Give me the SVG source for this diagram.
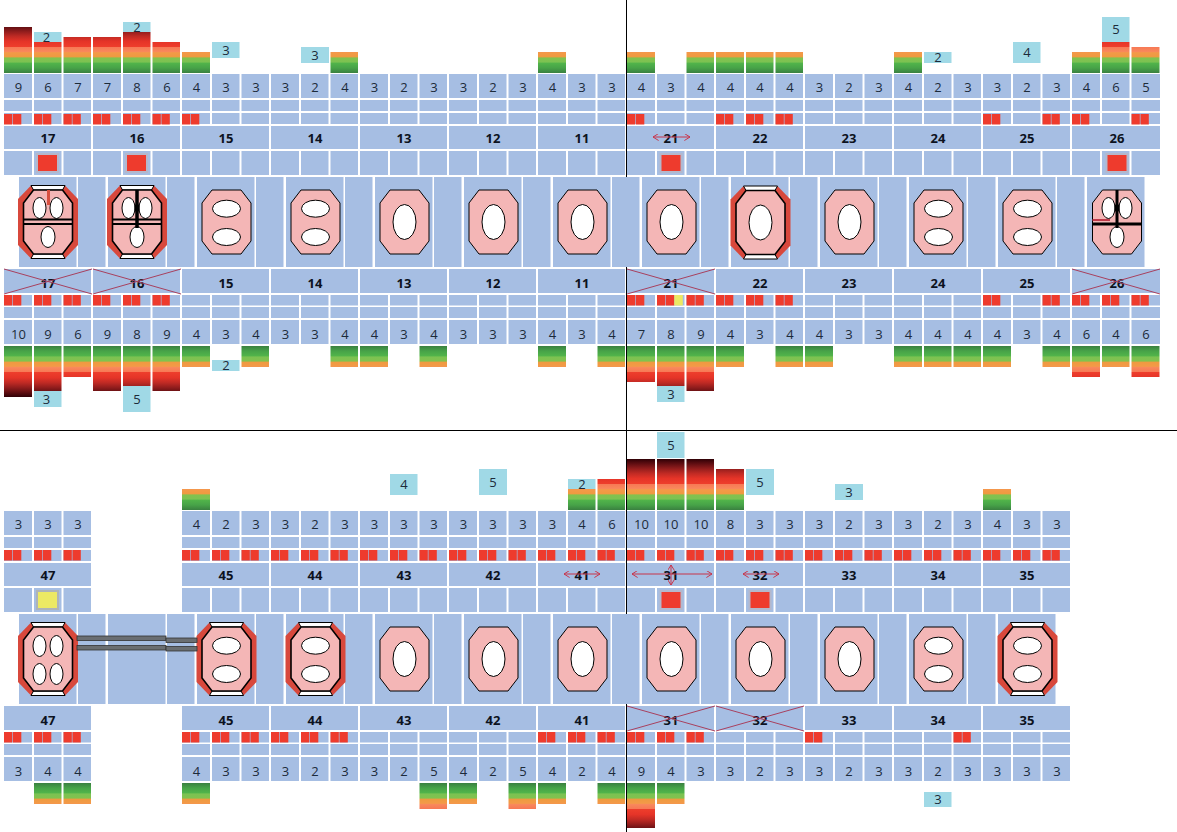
<svg xmlns="http://www.w3.org/2000/svg" width="1177" height="832" viewBox="0 0 1177 832">
<style>
.c{fill:#a6bee3}
.n{font:13px "Open Sans","Liberation Sans",sans-serif;fill:#1c2b3a;text-anchor:middle}
.l{font:bold 13px "Open Sans","Liberation Sans",sans-serif;fill:#0c1220;text-anchor:middle}
.tl{fill:#a0d9e6}
.u{fill:url(#gu)}
.d{fill:url(#gd)}
.r{fill:#ee3b2d}
.sq{fill:#ee3b2d;stroke:#b4b8cc;stroke-width:2}
.sy{fill:#ece964;stroke:#aeb4b8;stroke-width:2}
.y{fill:#ece964}
.ov{fill:#fff;stroke:#000;stroke-width:1}
.oc{fill:#f4b6b6;stroke:#000;stroke-width:1}
.oc2{fill:#f4b6b6;stroke:#000;stroke-width:1.6}
.xl{stroke:#a8405e;stroke-width:1;fill:none}
.ar{stroke:#c8344a;stroke-width:1;fill:none;marker-start:url(#ah);marker-end:url(#ah)}
.ax{stroke:#000;stroke-width:1}
</style>
<defs>
<linearGradient id="st">
<stop offset="0" stop-color="#3a8040"/><stop offset=".1" stop-color="#47a348"/><stop offset=".2" stop-color="#52b54a"/><stop offset=".21" stop-color="#7cc252"/><stop offset=".3" stop-color="#82c24e"/><stop offset=".31" stop-color="#ee9a40"/><stop offset=".4" stop-color="#f39a48"/><stop offset=".41" stop-color="#f98a5c"/><stop offset=".5" stop-color="#f77a56"/><stop offset=".51" stop-color="#ee3e2c"/><stop offset=".62" stop-color="#e53428"/><stop offset=".72" stop-color="#bf2a24"/><stop offset=".82" stop-color="#8e1c1c"/><stop offset=".92" stop-color="#5a0c10"/><stop offset="1" stop-color="#300006"/>
</linearGradient>
<linearGradient id="gu" href="#st" gradientUnits="userSpaceOnUse" x1="0" y1="73" x2="0" y2="22"/>
<linearGradient id="gd" href="#st" gradientUnits="userSpaceOnUse" x1="0" y1="346" x2="0" y2="397"/>
<marker id="ah" viewBox="0 0 10 10" refX="9" refY="5" markerWidth="7" markerHeight="7" markerUnits="userSpaceOnUse" orient="auto-start-reverse"><path d="M1 0L9 5L1 10" fill="none" stroke="#c8344a" stroke-width="1.4"/></marker>
<g id="up">
<rect class="c" x="0" y="74" width="28" height="24"/><rect class="c" x="30" y="74" width="27.5" height="24"/><rect class="c" x="59.5" y="74" width="27.5" height="24"/>
<rect class="c" x="0" y="100" width="28" height="11"/><rect class="c" x="30" y="100" width="27.5" height="11"/><rect class="c" x="59.5" y="100" width="27.5" height="11"/>
<rect class="c" x="0" y="113" width="28" height="11"/><rect class="c" x="30" y="113" width="27.5" height="11"/><rect class="c" x="59.5" y="113" width="27.5" height="11"/>
<rect class="c" x="0" y="126" width="87" height="23"/>
<rect class="c" x="0" y="151" width="28" height="24"/><rect class="c" x="30" y="151" width="27.5" height="24"/><rect class="c" x="59.5" y="151" width="27.5" height="24"/>
</g>
<g id="lo">
<rect class="c" x="0" y="269" width="87" height="24"/>
<rect class="c" x="0" y="295" width="28" height="10.5"/><rect class="c" x="30" y="295" width="27.5" height="10.5"/><rect class="c" x="59.5" y="295" width="27.5" height="10.5"/>
<rect class="c" x="0" y="307" width="28" height="11"/><rect class="c" x="30" y="307" width="27.5" height="11"/><rect class="c" x="59.5" y="307" width="27.5" height="11"/>
<rect class="c" x="0" y="320" width="28" height="24"/><rect class="c" x="30" y="320" width="27.5" height="24"/><rect class="c" x="59.5" y="320" width="27.5" height="24"/>
</g>
<g id="bL"><rect class="c" x="15" y="177" width="57.500" height="90"/></g>
<g id="bS"><rect class="c" x="74" y="177" width="27.500" height="90"/></g>
<g id="p"><rect class="r" x="0" y="0" width="8.300" height="10.500"/><rect class="r" x="9" y="0" width="8.300" height="10.500"/></g>
<g id="rTop"><use href="#p" x="0" y="114"/><use href="#p" x="30" y="114"/><use href="#p" x="59.500" y="114"/></g>
<g id="rLow"><use href="#p" x="0" y="295"/><use href="#p" x="30" y="295"/><use href="#p" x="59.500" y="295"/></g>
<polygon id="oct" class="oc" points="-14.500,-32 14.500,-32 24.500,-19 24.500,19 14.500,32 -14.500,32 -24.500,19 -24.500,-19"/>
<g id="brd">
<polygon fill="#d8483c" points="-17,-36.500 17,-36.500 30,-23 30,23 17,36.500 -17,36.500 -30,23 -30,-23"/>
<polygon fill="#fff" stroke="#000" stroke-width="1" points="-17,-36.500 17,-36.500 14.500,-32 -14.500,-32"/>
<polygon fill="#fff" stroke="#000" stroke-width="1" points="-17,36.500 17,36.500 14.500,32 -14.500,32"/>
<polygon class="oc2" points="-14.500,-32 14.500,-32 24.500,-19 24.500,19 14.500,32 -14.500,32 -24.500,19 -24.500,-19"/>
</g>
<ellipse id="o1" class="ov" cx="0" cy="0" rx="11.500" ry="17.500"/>
<g id="o2"><ellipse class="ov" cx="0" cy="-13.300" rx="14" ry="8.500"/><ellipse class="ov" cx="0" cy="15" rx="14" ry="8.500"/></g>
<g id="o3"><ellipse class="ov" cx="-8.500" cy="-14" rx="6.500" ry="10.500"/><ellipse class="ov" cx="8.500" cy="-14" rx="6.500" ry="10.500"/><ellipse class="ov" cx="0" cy="15" rx="7" ry="10.500"/></g>
<g id="o4"><ellipse class="ov" cx="-8.500" cy="-13" rx="6.500" ry="10.500"/><ellipse class="ov" cx="8.500" cy="-13" rx="6.500" ry="10.500"/><ellipse class="ov" cx="-8.500" cy="15" rx="6.500" ry="10.500"/><ellipse class="ov" cx="8.500" cy="15" rx="6.500" ry="10.500"/></g>
<g id="xm"><line class="xl" x1="0" y1="269" x2="88" y2="294"/><line class="xl" x1="0" y1="294" x2="88" y2="269"/></g>
</defs>
<rect width="1177" height="832" fill="#fff"/>
<g id="connectors">
<line class="ax" x1="626.500" y1="0" x2="626.500" y2="832"/>
<line class="ax" x1="0" y1="430.500" x2="1177" y2="430.500"/>
</g>

<g id="t17" transform="translate(4)">
<use href="#up"/><use href="#lo"/><use href="#bL"/><use href="#bS"/><use href="#rTop"/><use href="#rLow"/>
<rect class="u" x="0" y="27" width="28" height="46"/><rect class="tl" x="30" y="32" width="27.500" height="10"/><rect class="u" x="30" y="42" width="27.500" height="31"/><rect class="u" x="59.500" y="37" width="27.500" height="36"/>
<rect class="d" x="0" y="346" width="28" height="51"/><rect class="d" x="30" y="346" width="27.500" height="45"/><rect class="tl" x="30" y="391" width="27.500" height="16"/><rect class="d" x="59.500" y="346" width="27.500" height="31"/>
<rect class="sq" x="33" y="154" width="21" height="18"/>
<g transform="translate(44 222)"><use href="#brd"/><use href="#o3"/><line x1="-24.500" x2="24.500" y1="-2.500" y2="-2.500" stroke="#000" stroke-width="2"/><line x1="-24.500" x2="24.500" y1="2" y2="2" stroke="#000" stroke-width="2"/><line x1=".5" x2=".5" y1="-32" y2="-17" stroke="#d85040" stroke-width="3"/></g>
<text class="n" x="14.500" y="92">9</text><text class="n" x="44" y="92">6</text><text class="n" x="74" y="92">7</text>
<text class="n" x="42.500" y="41.500" font-size="12">2</text>
<text class="l" x="44" y="143">17</text><text class="l" x="44" y="287.500">17</text>
<text class="n" x="14.500" y="339">10</text><text class="n" x="44" y="339">9</text><text class="n" x="74" y="339">6</text>
<text class="n" x="42.500" y="403.500">3</text>
<use href="#xm"/>
</g>

<g id="t16" transform="translate(93)">
<use href="#up"/><use href="#lo"/><use href="#bL"/><use href="#bS"/><use href="#rTop"/><use href="#rLow"/>
<rect class="u" x="0" y="37" width="28" height="36"/><rect class="tl" x="30" y="22" width="27.500" height="10"/><rect class="u" x="30" y="32" width="27.500" height="41"/><rect class="u" x="59.500" y="42" width="27.500" height="31"/>
<rect class="d" x="0" y="346" width="28" height="45"/><rect class="d" x="30" y="346" width="27.500" height="40"/><rect class="tl" x="30" y="386" width="27.500" height="26"/><rect class="d" x="59.500" y="346" width="27.500" height="45"/>
<rect class="sq" x="33" y="154" width="21" height="18"/>
<g transform="translate(44 222)"><use href="#brd"/><use href="#o3"/><line x1="-24.500" x2="24.500" y1="-2.500" y2="-2.500" stroke="#000" stroke-width="2"/><line x1="-24.500" x2="24.500" y1="2" y2="2" stroke="#000" stroke-width="2"/><line x1="0" x2="0" y1="-32" y2="6" stroke="#000" stroke-width="3.500"/><ellipse cx="0" cy="-14" rx="2.500" ry="4"/></g>
<text class="n" x="14.500" y="92">7</text><text class="n" x="44" y="92">8</text><text class="n" x="74" y="92">6</text>
<text class="n" x="44" y="31.500" font-size="12">2</text>
<text class="l" x="44" y="143">16</text><text class="l" x="44" y="287.500">16</text>
<text class="n" x="14.500" y="339">9</text><text class="n" x="44" y="339">8</text><text class="n" x="74" y="339">9</text>
<text class="n" x="44" y="404">5</text>
<use href="#xm"/>
</g>

<g id="t15" transform="translate(182)">
<use href="#up"/><use href="#lo"/><use href="#bL"/><use href="#bS"/>
<use href="#p" x="0" y="114"/>
<rect class="u" x="0" y="52" width="28" height="21"/><rect class="tl" x="30" y="42" width="27.500" height="16"/>
<rect class="d" x="0" y="346" width="28" height="21"/><rect class="tl" x="30" y="360" width="27.500" height="11"/><rect class="d" x="59.500" y="346" width="27.500" height="21"/>
<g transform="translate(44.500 222)"><use href="#oct"/><use href="#o2"/></g>
<text class="n" x="14.500" y="92">4</text><text class="n" x="44" y="92">3</text><text class="n" x="74" y="92">3</text>
<text class="n" x="44" y="54.500">3</text>
<text class="l" x="44" y="143">15</text><text class="l" x="44" y="287.500">15</text>
<text class="n" x="14.500" y="339">4</text><text class="n" x="44" y="339">3</text><text class="n" x="74" y="339">4</text>
<text class="n" x="44" y="370">2</text>
</g>

<g id="t14" transform="translate(271)">
<use href="#up"/><use href="#lo"/><use href="#bL"/><use href="#bS"/>
<rect class="tl" x="30" y="47" width="28" height="16"/><rect class="u" x="59.500" y="52" width="27.500" height="21"/>
<rect class="d" x="59.500" y="346" width="27.500" height="21"/>
<g transform="translate(44.500 222)"><use href="#oct"/><use href="#o2"/></g>
<text class="n" x="14.500" y="92">3</text><text class="n" x="44" y="92">2</text><text class="n" x="74" y="92">4</text>
<text class="n" x="44" y="59.500">3</text>
<text class="l" x="44" y="143">14</text><text class="l" x="44" y="287.500">14</text>
<text class="n" x="14.500" y="339">3</text><text class="n" x="44" y="339">3</text><text class="n" x="74" y="339">4</text>
</g>

<g id="t13" transform="translate(360)">
<use href="#up"/><use href="#lo"/><use href="#bL"/><use href="#bS"/>
<rect class="d" x="0" y="346" width="28" height="21"/><rect class="d" x="59.500" y="346" width="27.500" height="21"/>
<g transform="translate(44.500 222)"><use href="#oct"/><use href="#o1"/></g>
<text class="n" x="14.500" y="92">3</text><text class="n" x="44" y="92">2</text><text class="n" x="74" y="92">3</text>
<text class="l" x="44" y="143">13</text><text class="l" x="44" y="287.500">13</text>
<text class="n" x="14.500" y="339">4</text><text class="n" x="44" y="339">3</text><text class="n" x="74" y="339">4</text>
</g>

<g id="t12" transform="translate(449)">
<use href="#up"/><use href="#lo"/><use href="#bL"/><use href="#bS"/>
<g transform="translate(44.500 222)"><use href="#oct"/><use href="#o1"/></g>
<text class="n" x="14.500" y="92">3</text><text class="n" x="44" y="92">2</text><text class="n" x="74" y="92">3</text>
<text class="l" x="44" y="143">12</text><text class="l" x="44" y="287.500">12</text>
<text class="n" x="14.500" y="339">3</text><text class="n" x="44" y="339">3</text><text class="n" x="74" y="339">3</text>
</g>

<g id="t11" transform="translate(538)">
<use href="#up"/><use href="#lo"/><use href="#bL"/><use href="#bS"/>
<rect class="u" x="0" y="52" width="28" height="21"/>
<rect class="d" x="0" y="346" width="28" height="21"/><rect class="d" x="59.500" y="346" width="27.500" height="21"/>
<g transform="translate(44.500 222)"><use href="#oct"/><use href="#o1"/></g>
<text class="n" x="14.500" y="92">4</text><text class="n" x="44" y="92">3</text><text class="n" x="74" y="92">3</text>
<text class="l" x="44" y="143">11</text><text class="l" x="44" y="287.500">11</text>
<text class="n" x="14.500" y="339">4</text><text class="n" x="44" y="339">3</text><text class="n" x="74" y="339">4</text>
</g>

<g id="t21" transform="translate(627)">
<use href="#up"/><use href="#lo"/><use href="#bL"/><use href="#bS"/><use href="#rLow"/>
<use href="#p" x="0" y="114"/>
<rect class="y" x="47.300" y="295" width="8.500" height="10.500"/>
<rect class="u" x="0" y="52" width="28" height="21"/><rect class="u" x="59.500" y="52" width="27.500" height="21"/>
<rect class="d" x="0" y="346" width="28" height="36"/><rect class="d" x="30" y="346" width="27.500" height="40"/><rect class="tl" x="30" y="386" width="27.500" height="16"/><rect class="d" x="59.500" y="346" width="27.500" height="45"/>
<rect class="sq" x="33.500" y="154" width="21" height="18"/>
<g transform="translate(44.500 222)"><use href="#oct"/><use href="#o1"/></g>
<text class="n" x="14.500" y="92">4</text><text class="n" x="44" y="92">3</text><text class="n" x="74" y="92">4</text>
<text class="l" x="44" y="143">21</text><text class="l" x="44" y="287.500">21</text>
<text class="n" x="14.500" y="339">7</text><text class="n" x="44" y="339">8</text><text class="n" x="74" y="339">9</text>
<text class="n" x="44" y="398.500">3</text>
<line class="ar" x1="26" y1="137" x2="63" y2="137"/>
<use href="#xm"/>
</g>

<g id="t22" transform="translate(716)">
<use href="#up"/><use href="#lo"/><use href="#bL"/><use href="#bS"/><use href="#rTop"/><use href="#rLow"/>
<rect class="u" x="0" y="52" width="28" height="21"/><rect class="u" x="30" y="52" width="27.500" height="21"/><rect class="u" x="59.500" y="52" width="27.500" height="21"/>
<rect class="d" x="0" y="346" width="28" height="21"/><rect class="d" x="59.500" y="346" width="27.500" height="21"/>
<g transform="translate(44.500 222.500)"><use href="#brd"/><use href="#o1"/></g>
<text class="n" x="14.500" y="92">4</text><text class="n" x="44" y="92">4</text><text class="n" x="74" y="92">4</text>
<text class="l" x="44" y="143">22</text><text class="l" x="44" y="287.500">22</text>
<text class="n" x="14.500" y="339">4</text><text class="n" x="44" y="339">3</text><text class="n" x="74" y="339">4</text>
</g>

<g id="t23" transform="translate(805)">
<use href="#up"/><use href="#lo"/><use href="#bL"/><use href="#bS"/>
<rect class="d" x="0" y="346" width="28" height="21"/>
<g transform="translate(44.500 222)"><use href="#oct"/><use href="#o1"/></g>
<text class="n" x="14.500" y="92">3</text><text class="n" x="44" y="92">2</text><text class="n" x="74" y="92">3</text>
<text class="l" x="44" y="143">23</text><text class="l" x="44" y="287.500">23</text>
<text class="n" x="14.500" y="339">4</text><text class="n" x="44" y="339">3</text><text class="n" x="74" y="339">3</text>
</g>

<g id="t24" transform="translate(894)">
<use href="#up"/><use href="#lo"/><use href="#bL"/><use href="#bS"/>
<rect class="u" x="0" y="52" width="28" height="21"/><rect class="tl" x="30" y="52" width="27.500" height="11"/>
<rect class="d" x="0" y="346" width="28" height="21"/><rect class="d" x="30" y="346" width="27.500" height="21"/><rect class="d" x="59.500" y="346" width="27.500" height="21"/>
<g transform="translate(44.500 222)"><use href="#oct"/><use href="#o2"/></g>
<text class="n" x="14.500" y="92">4</text><text class="n" x="44" y="92">2</text><text class="n" x="74" y="92">3</text>
<text class="n" x="44" y="62">2</text>
<text class="l" x="44" y="143">24</text><text class="l" x="44" y="287.500">24</text>
<text class="n" x="14.500" y="339">4</text><text class="n" x="44" y="339">4</text><text class="n" x="74" y="339">4</text>
</g>

<g id="t25" transform="translate(983)">
<use href="#up"/><use href="#lo"/><use href="#bL"/><use href="#bS"/>
<use href="#p" x="0" y="114"/><use href="#p" x="59.500" y="114"/><use href="#p" x="0" y="295"/><use href="#p" x="59.500" y="295"/>
<rect class="tl" x="30" y="42" width="27.500" height="21"/>
<rect class="d" x="0" y="346" width="28" height="21"/><rect class="d" x="59.500" y="346" width="27.500" height="21"/>
<g transform="translate(44.500 222)"><use href="#oct"/><use href="#o2"/></g>
<text class="n" x="14.500" y="92">3</text><text class="n" x="44" y="92">2</text><text class="n" x="74" y="92">3</text>
<text class="n" x="44" y="57">4</text>
<text class="l" x="44" y="143">25</text><text class="l" x="44" y="287.500">25</text>
<text class="n" x="14.500" y="339">4</text><text class="n" x="44" y="339">3</text><text class="n" x="74" y="339">4</text>
</g>

<g id="t26" transform="translate(1072)">
<use href="#up"/><use href="#lo"/><use href="#bL"/><use href="#rLow"/>
<use href="#p" x="0" y="114"/><use href="#p" x="59.500" y="114"/>
<rect class="c" x="87" y="74" width="1" height="24"/><rect class="c" x="87" y="100" width="1" height="11"/><rect class="c" x="87" y="113" width="1" height="11"/><rect class="c" x="87" y="126" width="1" height="23"/><rect class="c" x="87" y="151" width="1" height="24"/><rect class="c" x="87" y="269" width="1" height="24"/><rect class="c" x="87" y="295" width="1" height="10.500"/><rect class="c" x="87" y="307" width="1" height="11"/><rect class="c" x="87" y="320" width="1" height="24"/>
<rect class="u" x="0" y="52" width="28" height="21"/><rect class="tl" x="30" y="17" width="27.500" height="25"/><rect class="u" x="30" y="42" width="27.500" height="31"/><rect class="u" x="59.500" y="47" width="28" height="26"/>
<rect class="d" x="0" y="346" width="28" height="31"/><rect class="d" x="30" y="346" width="27.500" height="21"/><rect class="d" x="59.500" y="346" width="28" height="31"/>
<rect class="sq" x="34.500" y="154" width="21" height="18"/>
<g transform="translate(45 222)"><use href="#oct"/><use href="#o3"/><line x1="-24.500" x2="24.500" y1="2" y2="2" stroke="#000" stroke-width="3"/><line x1="-24.500" x2="-7" y1="-2" y2="-2" stroke="#c03a4a" stroke-width="2"/><line x1="0" x2="0" y1="-32" y2="6" stroke="#000" stroke-width="3"/><ellipse cx="0" cy="-14" rx="2.500" ry="4"/></g>
<text class="n" x="14.500" y="92">4</text><text class="n" x="44" y="92">6</text><text class="n" x="74" y="92">5</text>
<text class="n" x="44" y="34">5</text>
<text class="l" x="45" y="143">26</text><text class="l" x="45" y="287.500">26</text>
<text class="n" x="14.500" y="339">6</text><text class="n" x="44" y="339">4</text><text class="n" x="74" y="339">6</text>
<use href="#xm"/>
</g>

<g id="t47" transform="translate(4 437)">
<use href="#up"/><use href="#lo"/><use href="#bL"/><use href="#bS"/>
<use href="#p" x="0" y="113"/><use href="#p" x="30" y="113"/><use href="#p" x="59.500" y="113"/><use href="#rLow"/>
<rect class="d" x="30" y="346" width="27.500" height="21"/><rect class="d" x="59.500" y="346" width="27.500" height="21"/>
<rect class="sy" x="33" y="154" width="21" height="18"/>
<g transform="translate(44 222)"><use href="#brd"/><use href="#o4"/></g>
<text class="n" x="14.500" y="92">3</text><text class="n" x="44" y="92">3</text><text class="n" x="74" y="92">3</text>
<text class="l" x="44" y="143">47</text><text class="l" x="44" y="287.500">47</text>
<text class="n" x="14.500" y="339">3</text><text class="n" x="44" y="339">4</text><text class="n" x="74" y="339">4</text>
</g>

<g id="t46" transform="translate(93 437)"><use href="#bL"/><use href="#bS"/></g>

<g id="t45" transform="translate(182 437)">
<use href="#up"/><use href="#lo"/><use href="#bL"/><use href="#bS"/>
<use href="#p" x="0" y="113"/><use href="#p" x="30" y="113"/><use href="#p" x="59.500" y="113"/><use href="#rLow"/>
<rect class="u" x="0" y="52" width="28" height="21"/>
<rect class="d" x="0" y="346" width="28" height="21"/>
<g transform="translate(44.500 222)"><use href="#brd"/><use href="#o2"/></g>
<text class="n" x="14.500" y="92">4</text><text class="n" x="44" y="92">2</text><text class="n" x="74" y="92">3</text>
<text class="l" x="44" y="143">45</text><text class="l" x="44" y="287.500">45</text>
<text class="n" x="14.500" y="339">4</text><text class="n" x="44" y="339">3</text><text class="n" x="74" y="339">3</text>
</g>

<g id="t44" transform="translate(271 437)">
<use href="#up"/><use href="#lo"/><use href="#bL"/><use href="#bS"/>
<use href="#p" x="0" y="113"/><use href="#p" x="30" y="113"/><use href="#p" x="59.500" y="113"/><use href="#rLow"/>
<g transform="translate(44.500 222)"><use href="#brd"/><use href="#o2"/></g>
<text class="n" x="14.500" y="92">3</text><text class="n" x="44" y="92">2</text><text class="n" x="74" y="92">3</text>
<text class="l" x="44" y="143">44</text><text class="l" x="44" y="287.500">44</text>
<text class="n" x="14.500" y="339">3</text><text class="n" x="44" y="339">2</text><text class="n" x="74" y="339">3</text>
</g>

<g id="t43" transform="translate(360 437)">
<use href="#up"/><use href="#lo"/><use href="#bL"/><use href="#bS"/>
<use href="#p" x="0" y="113"/><use href="#p" x="30" y="113"/><use href="#p" x="59.500" y="113"/>
<rect class="tl" x="30" y="37" width="27.500" height="21"/>
<rect class="d" x="59.500" y="346" width="27.500" height="26"/>
<g transform="translate(44.500 222)"><use href="#oct"/><use href="#o1"/></g>
<text class="n" x="14.500" y="92">3</text><text class="n" x="44" y="92">3</text><text class="n" x="74" y="92">3</text>
<text class="n" x="44" y="52">4</text>
<text class="l" x="44" y="143">43</text><text class="l" x="44" y="287.500">43</text>
<text class="n" x="14.500" y="339">3</text><text class="n" x="44" y="339">2</text><text class="n" x="74" y="339">5</text>
</g>

<g id="t42" transform="translate(449 437)">
<use href="#up"/><use href="#lo"/><use href="#bL"/><use href="#bS"/>
<use href="#p" x="0" y="113"/><use href="#p" x="30" y="113"/><use href="#p" x="59.500" y="113"/>
<rect class="tl" x="30" y="32" width="28" height="26"/>
<rect class="d" x="0" y="346" width="28" height="21"/><rect class="d" x="59.500" y="346" width="27.500" height="26"/>
<g transform="translate(44.500 222)"><use href="#oct"/><use href="#o1"/></g>
<text class="n" x="14.500" y="92">3</text><text class="n" x="44" y="92">3</text><text class="n" x="74" y="92">3</text>
<text class="n" x="44" y="49.500">5</text>
<text class="l" x="44" y="143">42</text><text class="l" x="44" y="287.500">42</text>
<text class="n" x="14.500" y="339">4</text><text class="n" x="44" y="339">2</text><text class="n" x="74" y="339">5</text>
</g>

<g id="t41" transform="translate(538 437)">
<use href="#up"/><use href="#lo"/><use href="#bL"/><use href="#bS"/>
<use href="#p" x="0" y="113"/><use href="#p" x="30" y="113"/><use href="#p" x="59.500" y="113"/><use href="#rLow"/>
<rect class="tl" x="30" y="42" width="27.500" height="10"/><rect class="u" x="30" y="52" width="27.500" height="21"/><rect class="u" x="59.500" y="42" width="27.500" height="31"/>
<rect class="d" x="0" y="346" width="28" height="21"/><rect class="d" x="59.500" y="346" width="27.500" height="21"/>
<g transform="translate(44.500 222)"><use href="#oct"/><use href="#o1"/></g>
<text class="n" x="14.500" y="92">3</text><text class="n" x="44" y="92">4</text><text class="n" x="74" y="92">6</text>
<text class="n" x="44" y="51.500">2</text>
<text class="l" x="44" y="143">41</text><text class="l" x="44" y="287.500">41</text>
<text class="n" x="14.500" y="339">4</text><text class="n" x="44" y="339">2</text><text class="n" x="74" y="339">4</text>
<line class="ar" x1="26" y1="137" x2="62" y2="137"/>
</g>

<g id="t31" transform="translate(627 437)">
<use href="#up"/><use href="#lo"/><use href="#bL"/><use href="#bS"/>
<use href="#p" x="0" y="113"/><use href="#p" x="30" y="113"/><use href="#p" x="59.500" y="113"/><use href="#rLow"/>
<rect class="tl" x="30" y="-5" width="27.500" height="26"/>
<rect class="u" x="0" y="22" width="28" height="51"/><rect class="u" x="30" y="22" width="27.500" height="51"/><rect class="u" x="59.500" y="22" width="27.500" height="51"/>
<rect class="d" x="0" y="346" width="28" height="45"/><rect class="d" x="30" y="346" width="27.500" height="21"/>
<rect class="sq" x="33.500" y="154" width="21" height="18"/>
<g transform="translate(44.500 222)"><use href="#oct"/><use href="#o1"/></g>
<text class="n" x="14.500" y="92">10</text><text class="n" x="44" y="92">10</text><text class="n" x="74" y="92">10</text>
<text class="n" x="44" y="12.500">5</text>
<text class="l" x="44" y="143">31</text><text class="l" x="44" y="287.500">31</text>
<text class="n" x="14.500" y="339">9</text><text class="n" x="44" y="339">4</text><text class="n" x="74" y="339">3</text>
<line class="ar" x1="5" y1="137" x2="85" y2="137"/><line class="ar" x1="44" y1="128" x2="44" y2="148"/>
<use href="#xm"/>
</g>

<g id="t32" transform="translate(716 437)">
<use href="#up"/><use href="#lo"/><use href="#bL"/><use href="#bS"/>
<use href="#p" x="0" y="113"/><use href="#p" x="30" y="113"/><use href="#p" x="59.500" y="113"/>
<rect class="u" x="0" y="32" width="28" height="41"/><rect class="tl" x="30" y="32" width="28" height="26"/>
<rect class="sq" x="33.500" y="154" width="21" height="18"/>
<g transform="translate(44.500 222)"><use href="#oct"/><use href="#o1"/></g>
<text class="n" x="14.500" y="92">8</text><text class="n" x="44" y="92">3</text><text class="n" x="74" y="92">3</text>
<text class="n" x="44" y="49.500">5</text>
<text class="l" x="44" y="143">32</text><text class="l" x="44" y="287.500">32</text>
<text class="n" x="14.500" y="339">3</text><text class="n" x="44" y="339">2</text><text class="n" x="74" y="339">3</text>
<line class="ar" x1="27" y1="137" x2="63" y2="137"/>
<use href="#xm"/>
</g>

<g id="t33" transform="translate(805 437)">
<use href="#up"/><use href="#lo"/><use href="#bL"/><use href="#bS"/>
<use href="#p" x="0" y="113"/><use href="#p" x="30" y="113"/><use href="#p" x="59.500" y="113"/><use href="#p" x="0" y="295"/>
<rect class="tl" x="30" y="47" width="28" height="16"/>
<g transform="translate(44.500 222)"><use href="#oct"/><use href="#o1"/></g>
<text class="n" x="14.500" y="92">3</text><text class="n" x="44" y="92">2</text><text class="n" x="74" y="92">3</text>
<text class="n" x="44" y="59.500">3</text>
<text class="l" x="44" y="143">33</text><text class="l" x="44" y="287.500">33</text>
<text class="n" x="14.500" y="339">3</text><text class="n" x="44" y="339">2</text><text class="n" x="74" y="339">3</text>
</g>

<g id="t34" transform="translate(894 437)">
<use href="#up"/><use href="#lo"/><use href="#bL"/><use href="#bS"/>
<use href="#p" x="0" y="113"/><use href="#p" x="30" y="113"/><use href="#p" x="59.500" y="113"/><use href="#p" x="59.500" y="295"/>
<rect class="tl" x="30" y="355" width="27.500" height="15"/>
<g transform="translate(44.500 222)"><use href="#oct"/><use href="#o2"/></g>
<text class="n" x="14.500" y="92">3</text><text class="n" x="44" y="92">2</text><text class="n" x="74" y="92">3</text>
<text class="l" x="44" y="143">34</text><text class="l" x="44" y="287.500">34</text>
<text class="n" x="14.500" y="339">3</text><text class="n" x="44" y="339">2</text><text class="n" x="74" y="339">3</text>
<text class="n" x="44" y="367">3</text>
</g>

<g id="t35" transform="translate(983 437)">
<use href="#up"/><use href="#lo"/><use href="#bL"/>
<use href="#p" x="0" y="113"/><use href="#p" x="30" y="113"/><use href="#p" x="59.500" y="113"/>
<rect class="u" x="0" y="52" width="28" height="21"/>
<g transform="translate(44.500 222)"><use href="#brd"/><use href="#o2"/></g>
<text class="n" x="14.500" y="92">4</text><text class="n" x="44" y="92">3</text><text class="n" x="74" y="92">3</text>
<text class="l" x="44" y="143">35</text><text class="l" x="44" y="287.500">35</text>
<text class="n" x="14.500" y="339">3</text><text class="n" x="44" y="339">3</text><text class="n" x="74" y="339">3</text>
</g>

<g id="bridge" fill="#6a6e72" stroke="#333" stroke-width=".8">
<rect x="77" y="636" width="89" height="4.500"/><rect x="77" y="645.500" width="89" height="4.500"/>
<rect x="166" y="638" width="31" height="4.500"/><rect x="166" y="646.500" width="31" height="4.500"/>
</g>
</svg>
